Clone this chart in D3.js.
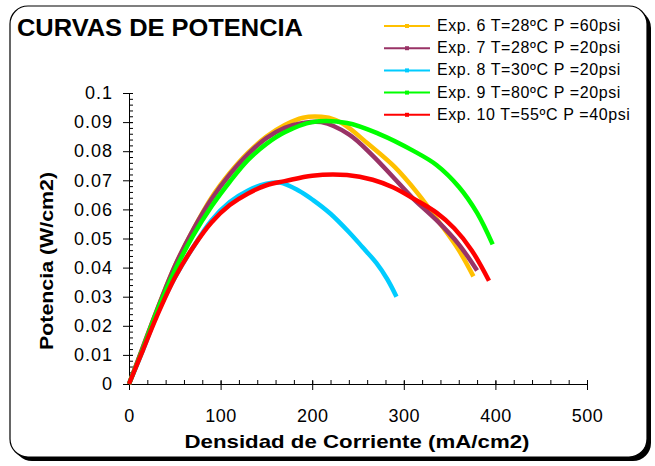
<!DOCTYPE html>
<html>
<head>
<meta charset="utf-8">
<script src="https://cdn.jsdelivr.net/npm/d3@7"></script>
<style>
  body { margin: 0; background: #fff; }
  svg { font-family: 'Liberation Sans', Arial, sans-serif; }
</style>
</head>
<body>
<div id="chart"></div>
<script>
const WIDTH = 655
const HEIGHT = 466

// datos: densidad de corriente (mA/cm2) y potencia (W/cm2)
const exp6X = [0, 15, 30, 50, 70, 90, 110, 130, 150, 170, 190, 210, 225, 240, 260, 290, 315, 340, 360, 376]
const exp6Y = [0, 0.0125, 0.025, 0.0405, 0.053, 0.064, 0.0725, 0.0795, 0.085, 0.089, 0.0915, 0.0918, 0.0908, 0.088, 0.0828, 0.0746, 0.0656, 0.055, 0.046, 0.037]
const exp7X = [0, 15, 30, 50, 70, 90, 110, 130, 150, 170, 190, 210, 240, 266, 288, 310, 336, 360, 380]
const exp7Y = [0, 0.0125, 0.025, 0.0405, 0.053, 0.0635, 0.072, 0.079, 0.0845, 0.088, 0.0897, 0.09, 0.0858, 0.0785, 0.0712, 0.0638, 0.0562, 0.048, 0.039]
const exp8X = [0, 15, 30, 50, 70, 90, 110, 130, 150, 165, 185, 201, 220, 241, 255, 270, 282, 292]
const exp8Y = [0, 0.0115, 0.0235, 0.0365, 0.047, 0.0562, 0.0625, 0.0665, 0.0688, 0.0692, 0.0665, 0.0632, 0.0585, 0.0519, 0.047, 0.0416, 0.036, 0.03]
const exp9X = [0, 15, 30, 50, 70, 90, 110, 130, 150, 170, 200, 238, 274, 310, 336, 360, 380, 397]
const exp9Y = [0, 0.012, 0.0245, 0.039, 0.051, 0.061, 0.0695, 0.077, 0.0825, 0.0865, 0.09, 0.0897, 0.0858, 0.0802, 0.0752, 0.0678, 0.0588, 0.048]
const exp10X = [0, 15, 30, 50, 70, 90, 110, 130, 150, 170, 200, 238, 266, 288, 310, 336, 355, 374, 393]
const exp10Y = [0, 0.0115, 0.023, 0.0365, 0.047, 0.0555, 0.0615, 0.0655, 0.0683, 0.0697, 0.0716, 0.0718, 0.0702, 0.0676, 0.0638, 0.0588, 0.0535, 0.046, 0.0355]

const SERIES_NAMES = ['Exp. 6 T=28ºC P =60psi', 'Exp. 7 T=28ºC P =20psi', 'Exp. 8 T=30ºC P =20psi', 'Exp. 9 T=80ºC P =20psi', 'Exp. 10 T=55ºC P =40psi']
const COLORS = ['#FFC000', '#993366', '#00CCFF', '#00FF00', '#FF0000']
const X_TICKS = [0, 100, 200, 300, 400, 500]
const Y_TICKS = [0, 0.01, 0.02, 0.03, 0.04, 0.05, 0.06, 0.07, 0.08, 0.09, 0.1]

const seriesX = [exp6X, exp7X, exp8X, exp9X, exp10X]
const seriesY = [exp6Y, exp7Y, exp8Y, exp9Y, exp10Y]
const series = seriesX.map((xs, s) => xs.map((x, i) => ({x: x, y: seriesY[s][i]})))

const svg = d3.select('#chart').append('svg')
  .attr('width', WIDTH).attr('height', HEIGHT)

// marco con sombra
svg.append('rect')
  .attr('x', 14).attr('y', 10).attr('width', 637).attr('height', 451)
  .attr('rx', 18).attr('fill', '#000')
svg.append('rect')
  .attr('x', 10).attr('y', 6).attr('width', 637).attr('height', 451)
  .attr('rx', 18).attr('fill', '#fff').attr('stroke', '#000').attr('stroke-width', 1.2)

svg.append('text')
  .attr('x', 17).attr('y', 36)
  .attr('font-size', 23).attr('font-weight', 'bold')
  .attr('textLength', 286).attr('lengthAdjust', 'spacingAndGlyphs')
  .text('CURVAS DE POTENCIA')

const plot = {left: 129, right: 587, top: 93, bottom: 384}
const scaleX = d3.scaleLinear().domain([0, 500]).range([plot.left, plot.right])
const scaleY = d3.scaleLinear().domain([0, 0.1]).range([plot.bottom, plot.top])

// eje X
svg.append('g').attr('transform', `translate(0, ${plot.bottom})`)
  .call(d3.axisTop(scaleX).tickValues(d3.range(0, 501, 20)).tickSize(4).tickFormat(''))
const xAxis = svg.append('g').attr('transform', `translate(0, ${plot.bottom})`)
  .call(d3.axisBottom(scaleX).tickValues(X_TICKS).tickSize(6).tickPadding(19))
xAxis.selectAll('.tick line').attr('y1', -3)
xAxis.selectAll('.tick text').attr('font-size', 18).attr('font-family', null).attr('letter-spacing', 0.5)

// eje Y
svg.append('g').attr('transform', `translate(${plot.left}, 0)`)
  .call(d3.axisRight(scaleY).tickValues(d3.range(0, 51).map(i => i * 0.002)).tickSize(4).tickFormat(''))
const yAxis = svg.append('g').attr('transform', `translate(${plot.left}, 0)`)
  .call(d3.axisLeft(scaleY).tickValues(Y_TICKS).tickSize(6).tickPadding(10).tickFormat(d => d3.format('')(+d.toFixed(2))))
yAxis.selectAll('.tick line').attr('x1', 4)
yAxis.selectAll('.tick text').attr('font-size', 18).attr('font-family', null).attr('letter-spacing', 1)

svg.selectAll('.domain').attr('stroke', '#000')
svg.selectAll('.tick line').attr('stroke', '#000')

// curvas
const line = d3.line().x(d => scaleX(d.x)).y(d => scaleY(d.y)).curve(d3.curveCatmullRom)
svg.append('g').selectAll('path').data(series).join('path')
  .attr('d', line)
  .attr('fill', 'none')
  .attr('stroke', (d, i) => COLORS[i])
  .attr('stroke-width', 4.5)
  .attr('stroke-linejoin', 'round')

// titulos de ejes
svg.append('text')
  .attr('x', 357).attr('y', 448)
  .attr('text-anchor', 'middle').attr('font-size', 19).attr('font-weight', 'bold')
  .attr('textLength', 345).attr('lengthAdjust', 'spacingAndGlyphs')
  .text('Densidad de Corriente (mA/cm2)')
svg.append('text')
  .attr('transform', `translate(53, 261) rotate(-90)`)
  .attr('text-anchor', 'middle').attr('font-size', 18).attr('font-weight', 'bold')
  .attr('textLength', 178).attr('lengthAdjust', 'spacingAndGlyphs')
  .text('Potencia (W/cm2)')

// leyenda
const legend = svg.append('g').selectAll('g').data(SERIES_NAMES).join('g')
  .attr('transform', (d, i) => `translate(384, ${26 + i * 22.2})`)
legend.append('line')
  .attr('x1', 0).attr('x2', 46)
  .attr('stroke', (d, i) => COLORS[i]).attr('stroke-width', 2)
legend.append('rect')
  .attr('x', 21).attr('y', -2).attr('width', 4).attr('height', 4)
  .attr('fill', (d, i) => COLORS[i])
legend.append('text')
  .attr('x', 53).attr('y', 5)
  .attr('font-size', 16).attr('letter-spacing', 0.6)
  .text(d => d)
</script>
</body>
</html>
